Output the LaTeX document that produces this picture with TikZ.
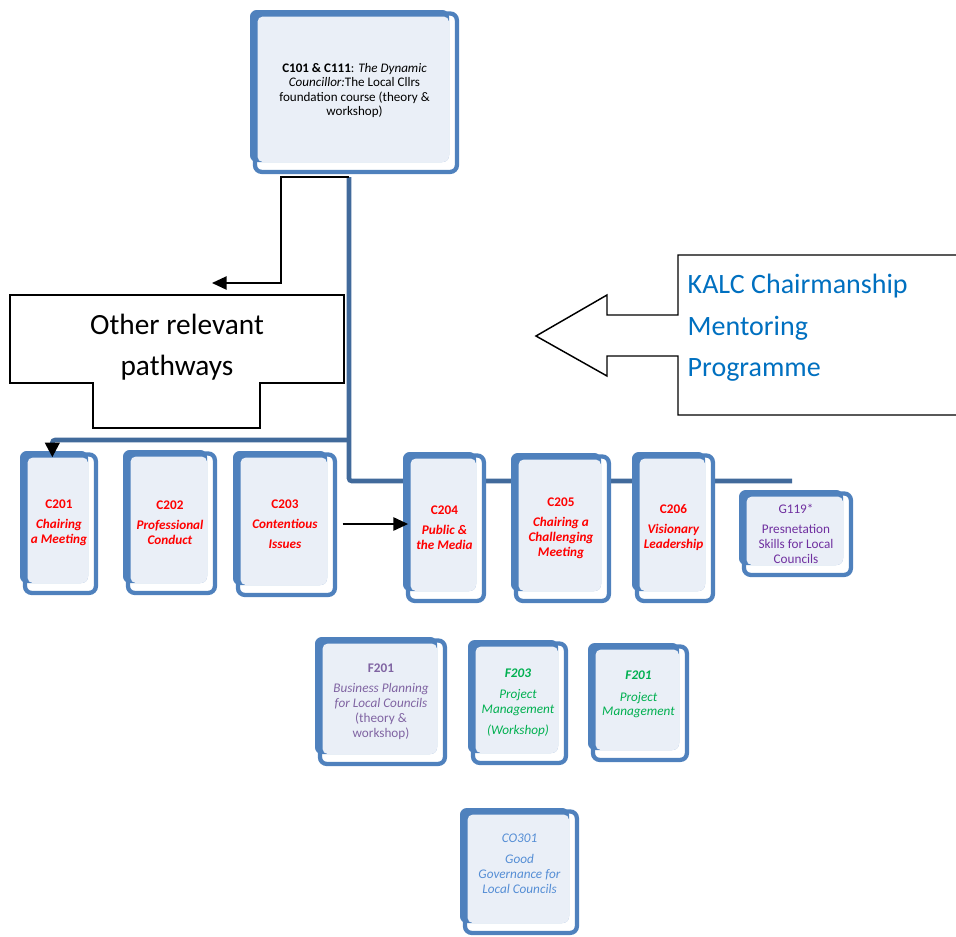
\documentclass[tikz,border=0pt]{standalone}
\usepackage{fontspec}
\setmainfont{Carlito}
\usetikzlibrary{arrows.meta, positioning, calc}
\definecolor{cardblue}{HTML}{4F81BD}
\definecolor{trunkblue}{HTML}{416A9B}
\definecolor{panel}{HTML}{EAEFF7}
\definecolor{kalc}{HTML}{0070C0}
\definecolor{cred}{HTML}{FF0000}
\definecolor{cpurple}{HTML}{7030A0}
\definecolor{cmauve}{HTML}{8064A2}
\definecolor{cgreen}{HTML}{00B050}
\definecolor{cblue}{HTML}{558ED5}
% course card: [node options]{name}{x0}{y0}{x1}{y1}{text}
\newcommand{\coursecard}[7][]{%
  \draw[cardfront] (#3+5,#4+3.5) rectangle (#5-2.1,#6-2.1);
  \fill[cardback] (#3,#4) rectangle (#5-10,#6-12);
  \fill[cardpanel] (#3+7.5,#4+6.5) rectangle (#5-10,#6-12);
  \node[cardtext, minimum width={(#5-#3)*0.75pt}, minimum height={(#6-#4)*0.75pt}, #1]
    (#2) at ({(#3+#5)/2},{(#4+#6)/2}) {#7};}

\begin{document}
\begin{tikzpicture}[x=0.75pt, y=-0.75pt,
    cardfront/.style={draw=cardblue, line width=3.2pt, fill=white, rounded corners=5pt},
    cardback/.style={fill=cardblue, rounded corners=5pt},
    cardpanel/.style={fill=panel, rounded corners=4pt},
    cardtext/.style={align=center, inner sep=0pt, font=\fontsize{9.9}{11.2}\selectfont},
    trunk/.style={draw=trunkblue, line width=3.4pt, rounded corners=2pt},
    link/.style={draw=black, line width=1.1pt, -{Triangle[length=11pt, width=10pt]}},
    outline/.style={draw=black, line width=1.1pt, fill=white},
    bigtext/.style={align=center, font=\fontsize{22}{31}\selectfont}]
    \useasboundingbox (0,0) rectangle (956,936);

    % trunk behind the cards
    \coordinate (stem) at (349,177);
    \coordinate (lbranch) at (349,440);
    \coordinate (rowend) at (792,481);
    \draw[trunk] (stem) |- (rowend);

    % Other relevant pathways
    \draw[outline] (10,295) -- (344,295) -- (344,383) -- (260,383) -- (260,428)
        -- (93,428) -- (93,383) -- (10,383) -- cycle;
    \node[bigtext] (other) at (177,347) {Other relevant\\pathways};
    \coordinate (pathin) at (212,283);

    % KALC mentoring arrow
    \draw[outline] (960,255) -- (678,255) -- (678,315) -- (607,315) -- (607,295)
        -- (536,336) -- (607,376) -- (607,356) -- (678,356) -- (678,415) -- (960,415);
    \node[anchor=west, align=left, text=kalc, font=\fontsize{21}{31}\selectfont]
        (kalc) at (683,328) {KALC Chairmanship\\Mentoring\\Programme};

    % Foundation card
    \coursecard[font=\fontsize{9.8}{10.8}\selectfont, yshift=1pt]{top}{250}{10}{459}{174}
        {\textbf{C101 \& C111}: \textit{The Dynamic}\\\textit{Councillor:}The Local Cllrs\\foundation course (theory \&\\workshop)};

    % Chairmanship cards
    \coursecard[text=cred]{c201}{20}{451}{98}{595}
        {\textbf{C201}\\[4pt]\textbf{\textit{Chairing}}\\\textbf{\textit{a Meeting}}};
    \coursecard[text=cred]{c202}{123}{450}{217}{595}
        {\textbf{C202}\\[4pt]\textbf{\textit{Professional}}\\\textbf{\textit{Conduct}}};
    \coursecard[text=cred]{c203}{233}{451}{337}{597}
        {\textbf{C203}\\[4pt]\textbf{\textit{Contentious}}\\[4pt]\textbf{\textit{Issues}}};
    \coursecard[text=cred]{c204}{403}{452}{486}{603}
        {\textbf{C204}\\[4pt]\textbf{\textit{Public \&}}\\\textbf{\textit{the Media}}};
    \coursecard[text=cred]{c205}{511}{453}{611}{603}
        {\textbf{C205}\\[4pt]\textbf{\textit{Chairing a}}\\\textbf{\textit{Challenging}}\\\textbf{\textit{Meeting}}};
    \coursecard[text=cred]{c206}{632}{452}{715}{603}
        {\textbf{C206}\\[4pt]\textbf{\textit{Visionary}}\\\textbf{\textit{Leadership}}};
    \coursecard[text=cpurple]{g119}{739}{490}{853}{577}
        {G119*\\[4pt]Presnetation\\Skills for Local\\Councils};

    % Further cards
    \coursecard[text=cmauve]{f201a}{315}{637}{447}{766}
        {\textbf{F201}\\[4pt]\textit{Business Planning}\\\textit{for Local Councils}\\(theory \&\\workshop)};
    \coursecard[text=cgreen]{f203}{468}{640}{568}{765}
        {\textbf{\textit{F203}}\\[5pt]\textit{Project}\\\textit{Management}\\[4pt]\textit{(Workshop)}};
    \coursecard[text=cgreen, yshift=6pt]{f201b}{588}{643}{689}{762}
        {\textbf{\textit{F201}}\\[5pt]\textit{Project}\\\textit{Management}};
    \coursecard[text=cblue, yshift=6pt]{co301}{460}{808}{579}{935}
        {\textit{CO301}\\[5pt]\textit{Good}\\\textit{Governance for}\\\textit{Local Councils}};

    % connectors
    \draw[link] (stem) -- (281,177) |- (pathin);
    \draw[trunk, shorten >=-5pt, -{Triangle[color=black, length=11pt, width=10.5pt]}]
        (lbranch) -| ([xshift=-5pt]c201.north);
    \draw[link] ([xshift=4pt]c203.east) -- ([xshift=4pt]c203.east -| c204.west);
\end{tikzpicture}
\end{document}
